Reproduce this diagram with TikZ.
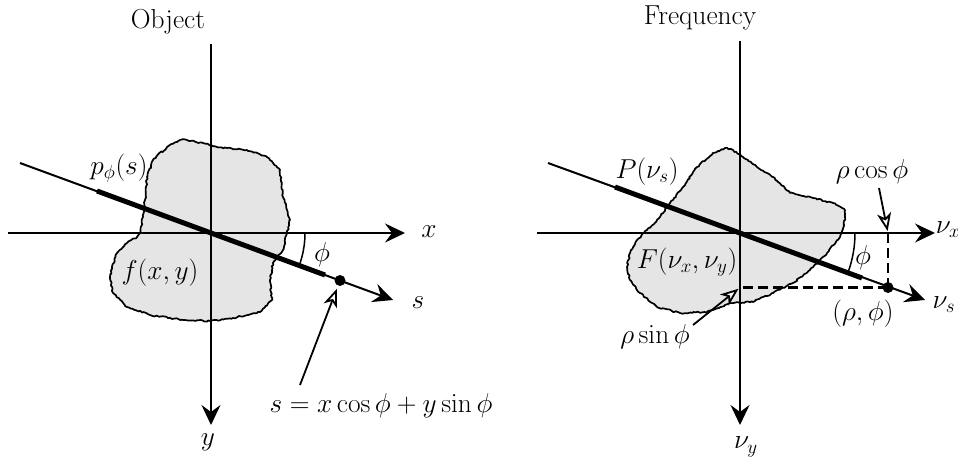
\documentclass[tikz,border=0pt]{standalone}
\usepackage{amsmath, amssymb}
\usepackage{tikz}
\usetikzlibrary{calc, arrows.meta, decorations.pathmorphing}

\tikzset{
  asse/.style={line width=2pt, -{Stealth[length=20pt, width=19pt, inset=7pt]}},
  spesso/.style={line width=5pt},
  oggetto/.style={fill=gray!20, draw, line width=1.7pt, line join=round,
    decorate, decoration={random steps, segment length=2pt, amplitude=0.8pt}},
  freccia/.style={line width=1.8pt, -{Stealth[open, length=18pt, width=14pt, inset=5pt, fill=white]}},
  tratt/.style={line width=2.5pt, dash pattern=on 10pt off 5pt},
  angolo/.style={line width=1.5pt},
  titolo/.style={scale=1.04},
  every node/.style={font=\fontsize{24}{29}\selectfont, scale=1.1, inner sep=1pt},
}

\begin{document}
\begin{tikzpicture}[x=1pt, y=-1pt, >=Stealth]

\useasboundingbox (0,0) rectangle (958,463);

% --- oggetto ---

% regione f(x,y)
\draw[oggetto] (180,140) -- (167,147) -- (153,160) -- (147,177) -- (145,200)
  -- (143,217) -- (140,233) -- (137,237) -- (127,243) -- (117,253) -- (112,267)
  -- (110,277) -- (113,293) -- (127,307) -- (150,315) -- (183,320) -- (210,321)
  -- (233,318) -- (260,312) -- (272,300) -- (270,280) -- (273,263) -- (283,250)
  -- (287,233) -- (290,220) -- (287,210) -- (283,197) -- (280,170) -- (267,157)
  -- (247,150) -- (227,148) -- (217,147) -- (203,143) -- (187,140) -- cycle;

% assi
\coordinate (O1) at (211,233);
\draw[asse] (8,233) -- (405,233);
\draw[asse] (211,44) -- (211,425);

% retta di proiezione
\draw[asse] (20,163) -- (393,300);
\draw[spesso] (97,191) -- (325,275);

% punto
\coordinate (P1) at (340,280.5);
\fill (P1) circle (5.5pt);

% angolo
\draw[angolo] ($(O1)+(94,0)$) arc[start angle=0, end angle=20.1, radius=94];

% etichette
\node[titolo] (tit1) at (168,22) {Object};
\node (lx) at (429,232) {$x$};
\node (ly) at (208,442) {$y$};
\node (ls) at (418,303) {$s$};
\node (lphi1) at (322,255) {$\phi$};
\node (lp) at (119,168) {$p_\phi(s)$};
\node (lf) at (160,273) {$f(x,y)$};
\node (leq) at (381,406) {$s = x\cos\phi + y\sin\phi$};

% freccia verso il punto
\coordinate (c1) at (300,385);
\draw[freccia, shorten >=9pt] (c1) -- (P1);

% --- frequenza ---

% regione F(nu_x,nu_y)
\draw[oggetto] (725,148) -- (713,153) -- (697,167) -- (683,187) -- (670,203)
  -- (660,217) -- (647,230) -- (637,240) -- (630,253) -- (627,267) -- (630,280)
  -- (640,293) -- (657,307) -- (680,313) -- (707,312) -- (730,303) -- (753,302)
  -- (773,293) -- (793,283) -- (810,270) -- (827,253) -- (840,237) -- (845,220)
  -- (845,210) -- (833,203) -- (813,198) -- (790,193) -- (773,177) -- (757,167)
  -- (743,157) -- (733,150) -- cycle;

% assi
\coordinate (O2) at (740,233);
\draw[asse] (537,233) -- (935,233);
\draw[asse] (740,41) -- (740,425);

% retta radiale
\draw[asse] (548,163) -- (925,300);
\draw[spesso] (615,187) -- (862,278);

% punto (rho,phi) e proiezioni
\coordinate (P2) at (888,287.5);
\draw[tratt] (P2) -- (P2 |- O2);
\draw[tratt] (P2) -- (P2 -| O2);
\fill (P2) circle (5.5pt);

% angolo
\draw[angolo] ($(O2)+(115,0)$) arc[start angle=0, end angle=20.1, radius=115];

% etichette
\node[titolo] (tit2) at (700,18) {Frequency};
\node (lnx) at (948,230) {$\nu_x$};
\node (lny) at (746,447) {$\nu_y$};
\node (lns) at (944,305) {$\nu_s$};
\node (lphi2) at (863,258) {$\phi$};
\node (lP) at (647,172) {$P(\nu_s)$};
\node (lF) at (687,262) {$F(\nu_x,\nu_y)$};
\node (lrp) at (863,314) {$(\rho,\phi)$};
\node (lrc) at (872,172) {$\rho\cos\phi$};
\node (lrs) at (655,337) {$\rho\sin\phi$};

% frecce verso gli assi
\coordinate (c2) at (879,188);
\draw[freccia, shorten >=2pt] (c2) -- (P2 |- O2);
\coordinate (c3) at (693,325);
\draw[freccia, shorten >=2pt] (c3) -- (P2 -| O2);

\end{tikzpicture}
\end{document}
